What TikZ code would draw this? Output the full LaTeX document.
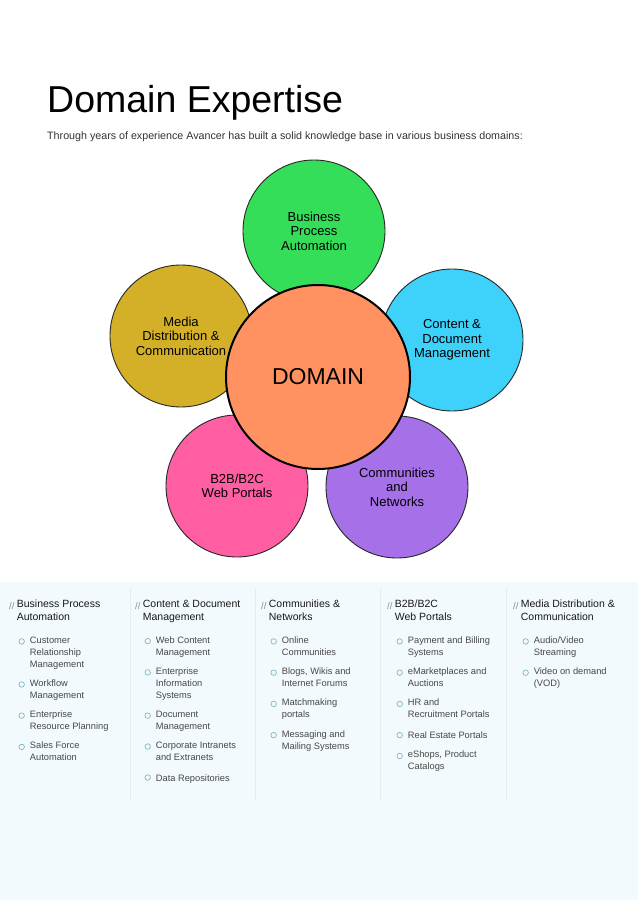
\documentclass[tikz,border=0pt]{standalone}
\usepackage{fontspec}
\setmainfont{Liberation Sans}
\usetikzlibrary{positioning}
\definecolor{bpagreen}{RGB}{52,222,88}
\definecolor{medyellow}{RGB}{212,176,40}
\definecolor{cdmcyan}{RGB}{62,210,250}
\definecolor{webpink}{RGB}{255,95,162}
\definecolor{compurple}{RGB}{166,112,232}
\definecolor{domorange}{RGB}{255,146,96}
\definecolor{panelblue}{RGB}{243,250,253}
\definecolor{sepblue}{RGB}{226,238,243}
\definecolor{bulteal}{RGB}{128,182,196}
\tikzset{
petal/.style={circle,draw=black!85,line width=0.9pt,minimum size=142pt,inner sep=0pt,
  align=center,font=\fontsize{13}{14.5}\selectfont},
dom/.style={circle,draw=black,line width=2pt,fill=domorange,minimum size=184pt,
  font=\fontsize{23}{26}\selectfont},
slash/.style={anchor=north west,inner sep=0pt,text=black!45,
  font=\fontsize{9.5}{13}\selectfont,execute at begin node=\strut},
head/.style={inner sep=0pt,align=left,text=black!90,font=\fontsize{10.5}{13}\selectfont,
  execute at begin node=\strut,execute at end node=\strut},
itm/.style={inner sep=0pt,align=left,text=black!72,font=\fontsize{9.3}{12}\selectfont,
  execute at begin node=\strut,execute at end node=\strut},
bul/.style={circle,draw=bulteal,line width=0.7pt,minimum size=5.5pt,inner sep=0pt},
sep/.style={sepblue,line width=0.6pt},
}
\begin{document}
\begin{tikzpicture}[x=1pt,y=-1pt]
	\useasboundingbox[fill=white] (0,0) rectangle (638,900);
	\fill[panelblue] (0,582) rectangle (638,900);

	% title
	\node[anchor=base west,inner sep=0pt,font=\fontsize{37.5}{40}\selectfont] (title) at (47,112) {Domain Expertise};
	\node[anchor=base west,inner sep=0pt,text=black!80,font=\fontsize{10.7}{12}\selectfont] (intro) at (47,139)
	  {Through years of experience Avancer has built a solid knowledge base in various business domains:};

	% flower
	\node[petal,fill=bpagreen] (bpa) at (314,231) {Business\\Process\\Automation};
	\node[petal,fill=medyellow] (med) at (181,336) {Media\\Distribution \&\\Communication};
	\node[petal,fill=cdmcyan] (cdm) at (452,340) {Content \&\\Document\\Management};
	\node[petal,fill=webpink] (web) at (237,486) {B2B/B2C\\Web Portals};
	\node[petal,fill=compurple] (com) at (397,487) {Communities\\and\\Networks};
	\node[dom] (dom) at (318,377) {DOMAIN};

	% column rules
	\foreach \x in {130,255,380,506}
	  \draw[sep] (\x,588) -- (\x,800);

	% column 1
	\node[slash] (s1) at (9,600) {//};
	\node[head,right=2pt of s1.north east,anchor=north west] (h1) {Business Process\\Automation};
	\node[itm,below right=11.5pt and 13pt of h1.south west] (c1a) {Customer\\Relationship\\Management};
	\node[itm,below=8.5pt of c1a.south west,anchor=north west] (c1b) {Workflow\\Management};
	\node[itm,below=8.5pt of c1b.south west,anchor=north west] (c1c) {Enterprise\\Resource Planning};
	\node[itm,below=8.5pt of c1c.south west,anchor=north west] (c1d) {Sales Force\\Automation};

	% column 2
	\node[slash] (s2) at (135,600) {//};
	\node[head,right=2pt of s2.north east,anchor=north west] (h2) {Content \& Document\\Management};
	\node[itm,below right=11.5pt and 13pt of h2.south west] (c2a) {Web Content\\Management};
	\node[itm,below=8.5pt of c2a.south west,anchor=north west] (c2b) {Enterprise\\Information\\Systems};
	\node[itm,below=8.5pt of c2b.south west,anchor=north west] (c2c) {Document\\Management};
	\node[itm,below=8.5pt of c2c.south west,anchor=north west] (c2d) {Corporate Intranets\\and Extranets};
	\node[itm,below=8.5pt of c2d.south west,anchor=north west] (c2e) {Data Repositories};

	% column 3
	\node[slash] (s3) at (261,600) {//};
	\node[head,right=2pt of s3.north east,anchor=north west] (h3) {Communities \&\\Networks};
	\node[itm,below right=11.5pt and 13pt of h3.south west] (c3a) {Online\\Communities};
	\node[itm,below=8.5pt of c3a.south west,anchor=north west] (c3b) {Blogs, Wikis and\\Internet Forums};
	\node[itm,below=8.5pt of c3b.south west,anchor=north west] (c3c) {Matchmaking\\portals};
	\node[itm,below=8.5pt of c3c.south west,anchor=north west] (c3d) {Messaging and\\Mailing Systems};

	% column 4
	\node[slash] (s4) at (387,600) {//};
	\node[head,right=2pt of s4.north east,anchor=north west] (h4) {B2B/B2C\\Web Portals};
	\node[itm,below right=11.5pt and 13pt of h4.south west] (c4a) {Payment and Billing\\Systems};
	\node[itm,below=8.5pt of c4a.south west,anchor=north west] (c4b) {eMarketplaces and\\Auctions};
	\node[itm,below=8.5pt of c4b.south west,anchor=north west] (c4c) {HR and\\Recruitment Portals};
	\node[itm,below=8.5pt of c4c.south west,anchor=north west] (c4d) {Real Estate Portals};
	\node[itm,below=8.5pt of c4d.south west,anchor=north west] (c4e) {eShops, Product\\Catalogs};

	% column 5
	\node[slash] (s5) at (513,600) {//};
	\node[head,right=2pt of s5.north east,anchor=north west] (h5) {Media Distribution \&\\Communication};
	\node[itm,below right=11.5pt and 13pt of h5.south west] (c5a) {Audio/Video\\Streaming};
	\node[itm,below=8.5pt of c5a.south west,anchor=north west] (c5b) {Video on demand\\(VOD)};

	% bullets
	\foreach \n in {c1a,c1b,c1c,c1d,c2a,c2b,c2c,c2d,c2e,c3a,c3b,c3c,c3d,c4a,c4b,c4c,c4d,c4e,c5a,c5b}
	  \node[bul] at ([xshift=-8pt,yshift=-5pt]\n.north west) {};
\end{tikzpicture}
\end{document}
